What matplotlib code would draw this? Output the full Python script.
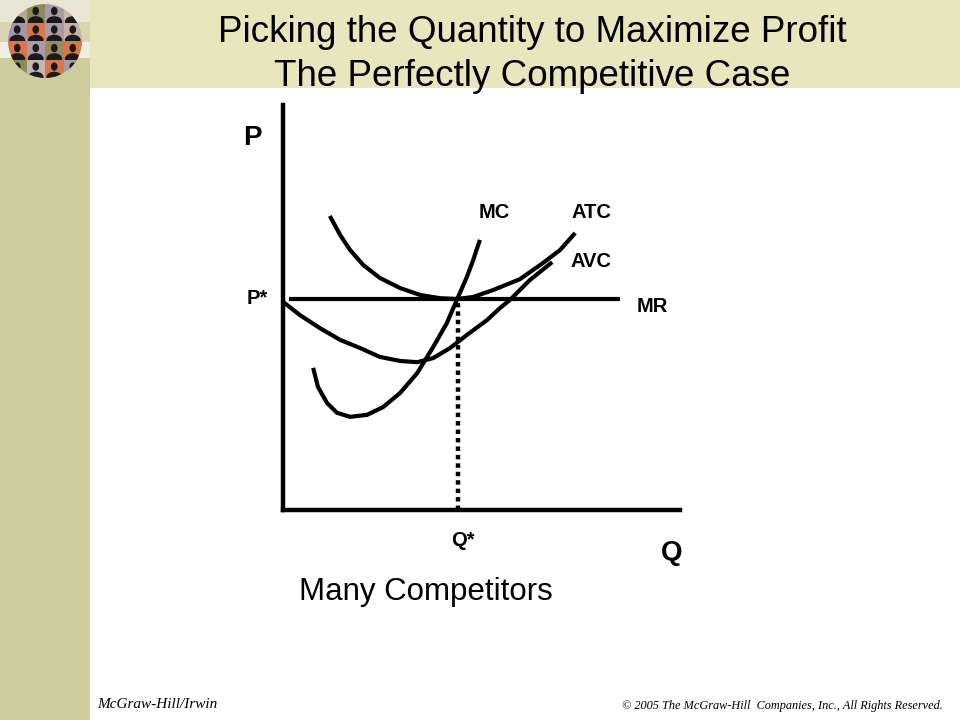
import matplotlib
matplotlib.use("Agg")
import matplotlib.pyplot as plt
from matplotlib.patches import Rectangle, Circle, Ellipse

# ---- data (Q, P in chart units: axes span 0..10 both ways) ----
atc_q = [1.18, 1.44, 1.69, 2.02, 2.44, 2.95, 3.45, 3.95, 4.38, 4.79, 5.29, 5.97, 6.55, 6.98, 7.36]
atc_p = [7.26, 6.79, 6.42, 6.05, 5.73, 5.48, 5.31, 5.23, 5.21, 5.26, 5.43, 5.70, 6.10, 6.42, 6.84]

mc_q = [0.76, 0.88, 1.11, 1.36, 1.69, 2.12, 2.52, 2.95, 3.38, 3.78, 4.13, 4.38, 4.63, 4.79, 4.96]
mc_p = [3.51, 3.04, 2.64, 2.40, 2.30, 2.35, 2.54, 2.89, 3.38, 4.02, 4.62, 5.19, 5.75, 6.17, 6.67]

avc_q = [0.0, 0.43, 0.93, 1.44, 1.94, 2.44, 2.95, 3.38, 3.78, 4.21, 4.63, 5.14, 5.47, 5.72, 6.22, 6.78]
avc_p = [5.14, 4.81, 4.49, 4.20, 4.00, 3.78, 3.68, 3.65, 3.75, 4.00, 4.32, 4.69, 4.99, 5.19, 5.68, 6.12]

mr_q = [0.15, 8.49]
p_star = 5.21
q_star = 4.41

title_lines = ["Picking the Quantity to Maximize Profit", "The Perfectly Competitive Case"]
curve_labels = ["MC", "ATC", "AVC", "MR"]

W, H = 960, 720
fig = plt.figure(figsize=(9.6, 7.2), dpi=100)
fig.patch.set_facecolor("white")

# ---- background decoration ----
bg = fig.add_axes([0, 0, 1, 1])
bg.set_xlim(0, W)
bg.set_ylim(H, 0)
bg.axis("off")
bg.add_patch(Rectangle((0, 0), 90, H, color="#cfcb9c", lw=0))
bg.add_patch(Rectangle((0, 0), 90, 22, color="#e8e7d6", lw=0))
bg.add_patch(Rectangle((0, 22), 90, 20, color="#d8d5b0", lw=0))
bg.add_patch(Rectangle((0, 42), 90, 16, color="#efeee2", lw=0))
bg.add_patch(Rectangle((90, 0), W - 90, 88, color="#e8e6bd", lw=0))

# globe icon
cx, cy, r = 45, 41, 37
clip = Circle((cx, cy), r, transform=bg.transData)
cell_colors = [
    ["#b7a99a", "#8d8a5e", "#a99aa8", "#c8b8a8"],
    ["#a495a8", "#d9764a", "#a99aa8", "#c7b0a6"],
    ["#d9764a", "#a99aa8", "#9a8c5e", "#d9764a"],
    ["#8d8a5e", "#c7b6b2", "#d9764a", "#a99aa8"],
]
cw = 2 * r / 4
for i in range(4):
    for j in range(4):
        rect = Rectangle((cx - r + j * cw, cy - r + i * cw), cw, cw,
                         color=cell_colors[i][j], lw=0)
        rect.set_clip_path(clip)
        bg.add_patch(rect)
        hx, hy = cx - r + j * cw + cw / 2, cy - r + i * cw + cw * 0.38
        head = Ellipse((hx, hy), cw * 0.36, cw * 0.45, color="#1a1a1a", lw=0)
        body = Ellipse((hx, hy + cw * 0.58), cw * 0.85, cw * 0.6, color="#1a1a1a", lw=0)
        for p in (head, body):
            p.set_clip_path(clip)
            bg.add_patch(p)

# title
bg.text(532, 32, title_lines[0], ha="center", va="center",
        fontsize=26.5, family="Liberation Sans", color="black")
bg.text(532, 76, title_lines[1], ha="center", va="center",
        fontsize=26.5, family="Liberation Sans", color="black")

# footer
bg.text(97, 704, "McGraw-Hill/Irwin", ha="left", va="center",
        fontsize=11, family="Liberation Serif", style="italic")
bg.text(943, 706, "\u00a9 2005 The McGraw-Hill  Companies, Inc., All Rights Reserved.",
        ha="right", va="center", fontsize=8.8, family="Liberation Serif", style="italic")

# ---- chart ----
x0, x1, y_top, y_bot = 283, 680, 105, 510
ax = fig.add_axes([x0 / W, (H - y_bot) / H, (x1 - x0) / W, (y_bot - y_top) / H])
ax.set_xlim(0, 10)
ax.set_ylim(0, 10)
ax.patch.set_alpha(0)
for s in ("top", "right"):
    ax.spines[s].set_visible(False)
for s in ("left", "bottom"):
    ax.spines[s].set_linewidth(3.2)
    ax.spines[s].set_capstyle("projecting")
ax.set_xticks([])
ax.set_yticks([])

kw = dict(color="black", lw=3, solid_capstyle="butt", solid_joinstyle="round", clip_on=False)
ax.plot(atc_q, atc_p, **kw)
ax.plot(mc_q, mc_p, **kw)
ax.plot(avc_q, avc_p, **kw)
ax.plot(mr_q, [p_star, p_star], **kw)
ax.plot([q_star, q_star], [0, p_star], color="black", lw=3.2,
        linestyle=(0, (1, 0.9)), dash_capstyle="butt", clip_on=False)

lab = dict(fontsize=14.5, fontweight="bold", family="Liberation Sans", ha="center", va="center")
ax.text(5.33, 7.35, curve_labels[0], **lab)
ax.text(7.78, 7.35, curve_labels[1], **lab)
ax.text(7.75, 6.14, curve_labels[2], **lab)
ax.text(9.3, 5.03, curve_labels[3], **lab)
ax.text(-0.65, 5.21, "P*", **lab)
ax.text(4.53, -0.75, "Q*", **lab)

big = dict(fontsize=20, fontweight="bold", family="Liberation Sans", ha="center", va="center")
ax.text(-0.78, 9.18, "P", **big)
ax.text(9.8, -1.05, "Q", **big)

ax.text(3.6, -2.03, "Many Competitors", fontsize=22.5, family="Liberation Sans",
        ha="center", va="center")

fig.savefig("out.png", dpi=100)
